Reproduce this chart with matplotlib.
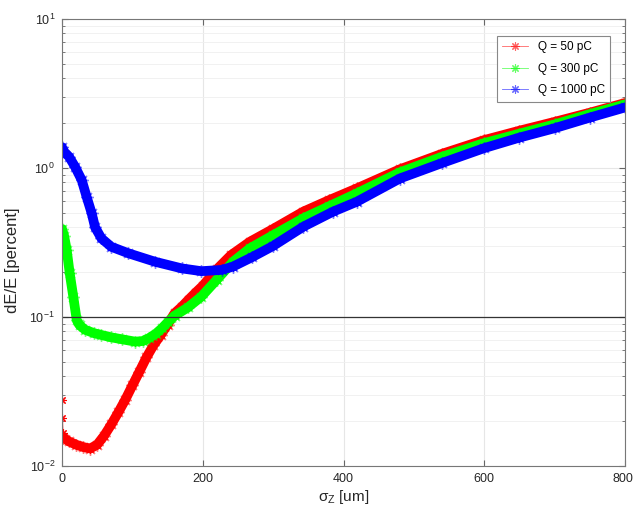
import numpy as np
import matplotlib
matplotlib.use("Agg")
import matplotlib.pyplot as plt
import matplotlib.transforms as mtransforms
from matplotlib.lines import Line2D

plt.rcParams['font.family'] = ['Liberation Sans', 'DejaVu Sans']
plt.rcParams['mathtext.default'] = 'regular'

# sigma_z [um] and dE/E [percent]
x_50 = [0, 0.6, 1.2, 2, 10, 20, 30, 40, 50, 60, 70, 80, 90, 100, 110, 120, 130,
        140, 150, 160, 170, 180, 190, 200, 220, 240, 267, 300, 343, 380, 419,
        480, 540, 600, 650, 700, 750, 800]
y_50 = [0.0277, 0.0209, 0.0167, 0.0155, 0.0146, 0.0139, 0.0134, 0.0131, 0.0139,
        0.0160, 0.0190, 0.0229, 0.0279, 0.0347, 0.0430, 0.0535, 0.0646, 0.0753,
        0.089, 0.106, 0.117, 0.131, 0.146, 0.162, 0.209, 0.260, 0.320, 0.390,
        0.510, 0.610, 0.730, 0.980, 1.245, 1.54, 1.78, 2.04, 2.35, 2.73]

x_300 = [0, 3, 6.7, 11, 16, 21, 25, 33, 45, 56, 70, 85, 104, 115, 123, 133, 142,
         150, 160, 179, 198, 220, 243, 267, 300, 343, 380, 419, 480, 540, 600,
         650, 700, 750, 800]
y_300 = [0.39, 0.35, 0.282, 0.196, 0.137, 0.095, 0.088, 0.082, 0.078, 0.0757,
         0.073, 0.0709, 0.0683, 0.069, 0.0719, 0.077, 0.084, 0.092, 0.102, 0.116,
         0.137, 0.178, 0.235, 0.289, 0.354, 0.46, 0.555, 0.676, 0.935, 1.19,
         1.47, 1.70, 1.96, 2.30, 2.67]

x_1000 = [0, 2, 10, 18.5, 28, 35, 42, 47, 56, 70, 94, 132, 170, 198, 227, 243,
          270, 300, 343, 385, 419, 480, 540, 600, 650, 700, 750, 800]
y_1000 = [1.38, 1.30, 1.19, 1.02, 0.83, 0.64, 0.50, 0.40, 0.337, 0.296, 0.268,
          0.235, 0.212, 0.203, 0.207, 0.218, 0.252, 0.300, 0.404, 0.509, 0.594,
          0.850, 1.08, 1.36, 1.60, 1.85, 2.18, 2.55]

series = [
    ('Q = 50 pC', x_50, y_50, '#ff0000', 3),
    ('Q = 300 pC', x_300, y_300, '#00ff00', 0),
    ('Q = 1000 pC', x_1000, y_1000, '#0000ff', 0),
]

star = (8, 2, 0)

fig = plt.figure(figsize=(6.34, 5.11), dpi=100)
ax = fig.add_axes([0.0978, 0.0881, 0.8880, 0.8747])

handles = []
for label, xs, ys, col, skip in series:
    ax.plot(xs, ys, '-', color=col, lw=0.8, marker=star, ms=6, mew=0.8)
    ax.plot(xs[skip:], ys[skip:], '-', color=col, lw=7, solid_capstyle='round',
            solid_joinstyle='round')
    ax.plot(xs[skip:], ys[skip:], ls='none', color=col, marker=star, ms=9,
            mew=1.0, alpha=0.5)
    handles.append(Line2D([], [], color=col, lw=0.6, alpha=0.6, marker=star,
                          ms=6, mew=0.8, label=label))

ax.axhline(0.1, color='#333333', lw=0.9)

ax.set_yscale('log')
ax.set_xlim(0, 800)
ax.set_ylim(1e-2, 1e1)
ax.set_xticks([0, 200, 400, 600, 800])
ax.set_yticks([1e-2, 1e-1, 1e0, 1e1])
ax.set_yticklabels(['$10^{-2}$', '$10^{-1}$', '$10^{0}$', '$10^{1}$'])

ax.grid(True, which='major', color='#e6e6e6', lw=0.8)
ax.grid(True, which='minor', axis='y', color='#efefef', lw=0.6)
ax.set_axisbelow(True)

ax.tick_params(which='both', direction='in', top=True, right=True,
               colors='#666666', labelcolor='#262626', labelsize=9)
ax.tick_params(which='major', length=4, pad=5)
ax.tick_params(which='minor', length=2.5)
for sp in ax.spines.values():
    sp.set_color('#777777')
    sp.set_linewidth(0.8)

# nudge the last x tick label so it stays inside the figure
last = ax.get_xticklabels()[-1]
last.set_transform(last.get_transform() +
                   mtransforms.ScaledTranslation(-2.5 / 100, 0, fig.dpi_scale_trans))

ax.set_xlabel('$\\sigma_Z$ [um]', fontsize=11, color='#262626', labelpad=2)
ax.set_ylabel('dE/E [percent]', fontsize=12, color='#262626', labelpad=6)
ax.yaxis.set_label_coords(-0.075, 0.46)

leg = ax.legend(handles=handles, loc='upper right', fontsize=8.5,
                bbox_to_anchor=(0.9734, 0.962), borderaxespad=0,
                fancybox=False, framealpha=1, edgecolor='#888888',
                handlelength=2.2, borderpad=0.45, labelspacing=0.8)
leg.get_frame().set_linewidth(0.8)

fig.savefig('out.png', dpi=100)
